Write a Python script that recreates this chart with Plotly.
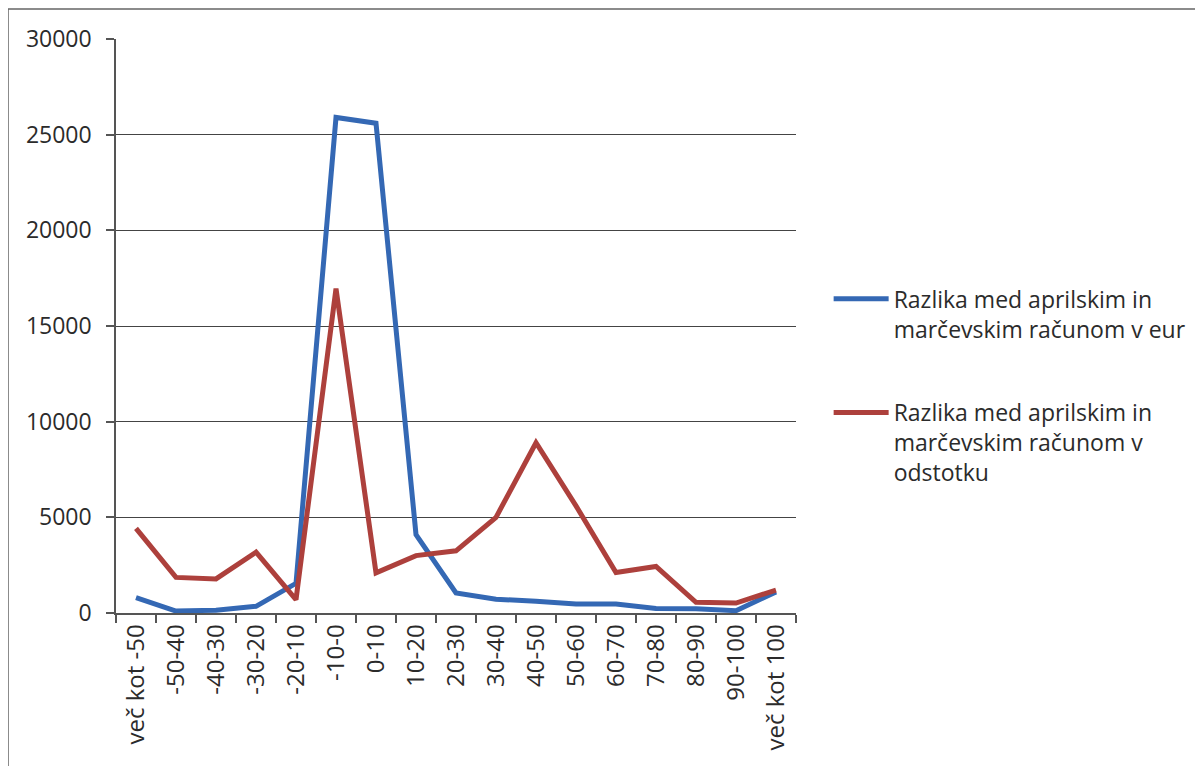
import plotly.graph_objects as go

categories = ["več kot -50", "-50-40", "-40-30", "-30-20", "-20-10", "-10-0", "0-10",
              "10-20", "20-30", "30-40", "40-50", "50-60", "60-70", "70-80", "80-90",
              "90-100", "več kot 100"]
eur_values = [800, 100, 150, 350, 1550, 25900, 25600, 4100, 1050, 720, 620, 470, 470,
              230, 220, 120, 1100]
pct_values = [4420, 1860, 1780, 3180, 700, 16950, 2100, 3000, 3250, 5000, 8900, 5600,
              2120, 2430, 560, 520, 1200]
series_names = ["Razlika med aprilskim in<br>marčevskim računom v eur",
                "Razlika med aprilskim in<br>marčevskim računom v<br>odstotku"]
y_ticks = [0, 5000, 10000, 15000, 20000, 25000, 30000]

FONT = "Open Sans"
TXT = "#2b2b2b"
# page body has an 8px margin; compensate so the plot area lands at x 116-796, y 39-613
W, H = 1195, 758
L, T, R, B = 108, 31, 407, 153
PW, PH = W - L - R, H - T - B

fig = go.Figure()
fig.add_trace(go.Scatter(x=categories, y=eur_values, mode="lines", name=series_names[0],
                         legendgroup="a",
                         line=dict(color="#3468B4", width=5)))
fig.add_trace(go.Scatter(x=categories, y=pct_values, mode="lines", name=series_names[1],
                         legendgroup="b",
                         line=dict(color="#AD403C", width=5)))

fig.update_layout(
    width=W, height=H,
    margin=dict(l=L, r=R, t=T, b=B, autoexpand=False),
    paper_bgcolor="white", plot_bgcolor="white",
    font=dict(family=FONT, size=23, color=TXT),
    showlegend=True,
    legend=dict(x=1.048, y=0.585, xanchor="left", yanchor="top",
                valign="top", traceorder="grouped", tracegroupgap=51,
                itemwidth=55, font=dict(size=23, color=TXT),
                bgcolor="rgba(0,0,0,0)"),
    xaxis=dict(type="category", range=[-0.5, 16.5], tickangle=-90,
               ticks="outside", tickson="boundaries", ticklen=8, tickwidth=1.5,
               tickcolor="#555", showline=True, linecolor="#555", linewidth=1.5,
               showgrid=False, tickfont=dict(size=24, color=TXT)),
    yaxis=dict(range=[0, 30000], tickvals=y_ticks, ticktext=[str(v) for v in y_ticks],
               ticks="outside", ticklen=8, tickwidth=1.5, tickcolor="#555",
               ticklabelstandoff=10,
               showline=True, linecolor="#555", linewidth=1.5,
               showgrid=True, gridcolor="#444", gridwidth=1.3, zeroline=False,
               tickfont=dict(size=23, color=TXT)),
    shapes=[dict(type="rect", xref="paper", yref="paper",
                 x0=-(L - 0) / PW, x1=(W - L + 20) / PW,
                 y0=-(B + 20) / PH, y1=1 + (T - 1) / PH,
                 line=dict(color="#666", width=1.5), layer="below")],
)

fig.write_html("out.html")
